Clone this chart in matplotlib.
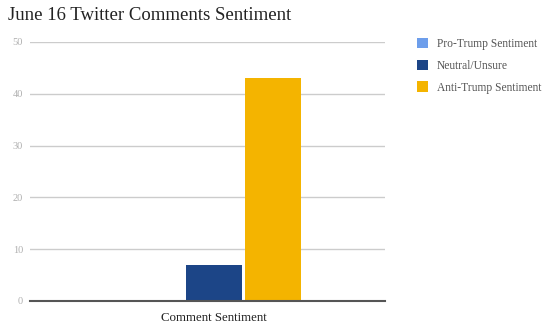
import matplotlib
matplotlib.use("Agg")
import matplotlib.pyplot as plt
from matplotlib.patches import Patch

category = ["Comment Sentiment"]
series = ["Pro-Trump Sentiment", "Neutral/Unsure", "Anti-Trump Sentiment"]
values = [0, 7, 43]
colors = ["#6d9eeb", "#1c4587", "#f4b400"]
yticks = [0, 10, 20, 30, 40, 50]

plt.rcParams['font.family'] = ['Liberation Serif', 'DejaVu Serif']

fig = plt.figure(figsize=(5.5, 3.32), dpi=100)
ax = fig.add_axes([30/550, 1-301/332, 355/550, 259/332])

width = 0.158
offsets = [-0.166, 0.0, 0.166]
for v, c, off in zip(values, colors, offsets):
    ax.bar(0 + off, v, width=width, color=c, zorder=3)

ax.set_xlim(-0.518, 0.482)
ax.set_ylim(0, 50)
ax.set_yticks(yticks)
ax.set_yticklabels([str(t) for t in yticks], color="#b0b0b0", fontsize=7.5)
ax.set_xticks([0])
ax.set_xticklabels(category, fontsize=9.3, color="#222222")
ax.tick_params(axis='both', length=0, pad=5)
ax.tick_params(axis='x', pad=8)
ax.grid(axis='y', color="#cccccc", linewidth=1, zorder=0)
for s in ["top", "right", "left"]:
    ax.spines[s].set_visible(False)
ax.spines["bottom"].set_color("#555555")
ax.spines["bottom"].set_linewidth(1.5)
ax.spines["bottom"].set_zorder(4)

fig.text(8/550, 1-15/332, "June 16 Twitter Comments Sentiment", fontsize=13.5,
         color="#222222", va="center", ha="left")

handles = [Patch(facecolor=c, edgecolor='none') for c in colors]
leg = fig.legend(handles, series, loc="upper left", bbox_to_anchor=(412/550, 1-33/332),
                 frameon=False, fontsize=8.3, handlelength=1.0, handleheight=1.0,
                 labelspacing=0.85, handletextpad=0.75, borderaxespad=0)
for t in leg.get_texts():
    t.set_color("#555555")

fig.savefig("out.png", dpi=100)
